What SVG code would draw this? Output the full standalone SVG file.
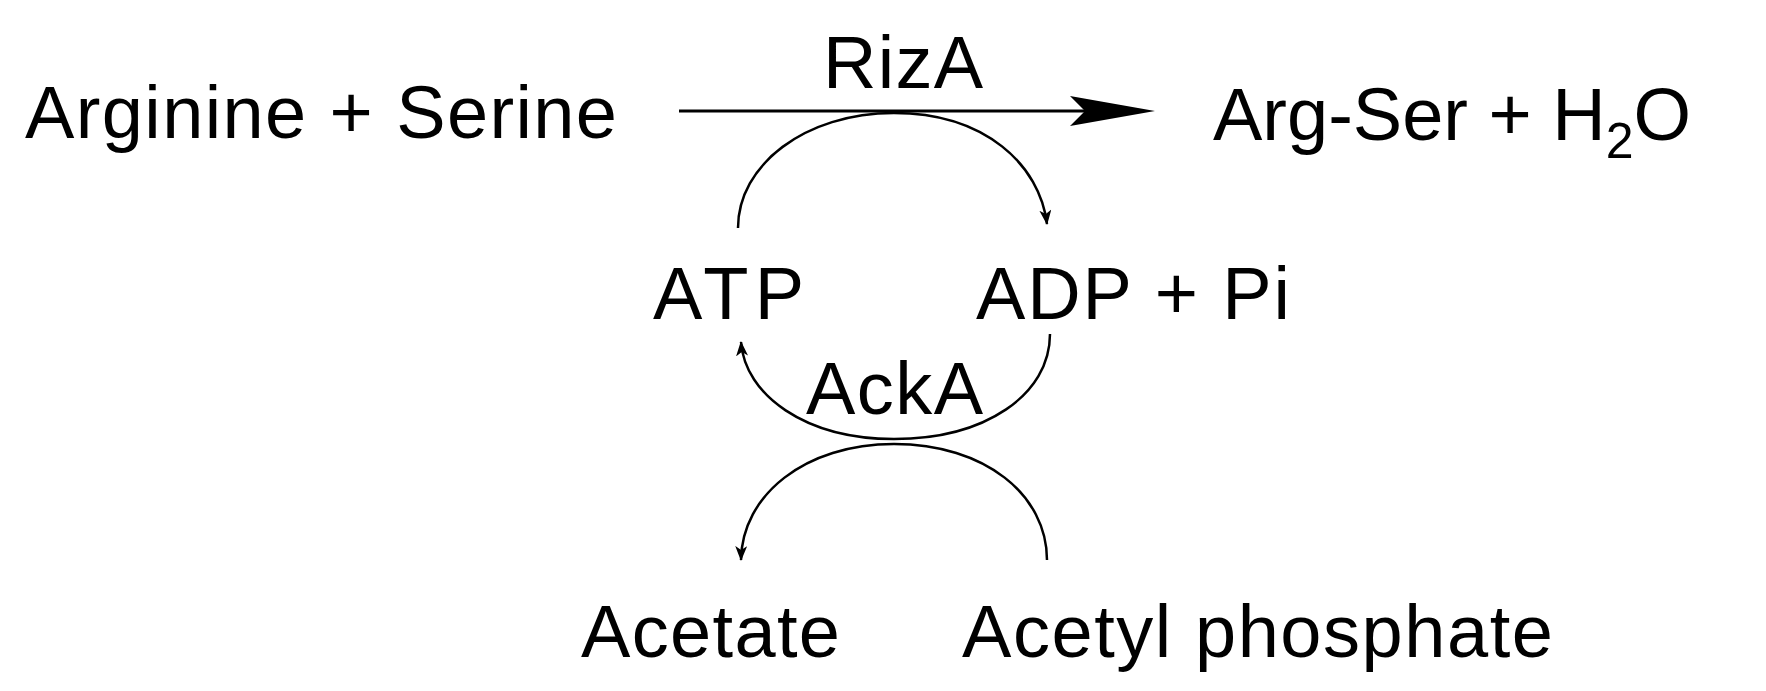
<svg xmlns="http://www.w3.org/2000/svg" width="1766" height="691" viewBox="0 0 1766 691">
<style>
text{font-family:"Liberation Sans",Arial,sans-serif;font-size:74px;fill:#000}
.arc{fill:none;stroke:#000;stroke-width:2.5}
</style>
<defs>
<marker id="sm" markerWidth="16" markerHeight="12" refX="14" refY="6" orient="auto" markerUnits="userSpaceOnUse">
<path d="M0,0 L15,6 L0,12 L4,6 Z" fill="#000"/>
</marker>
</defs>
<rect width="1766" height="691" fill="#fff"/>
<g id="reactants"><text x="25" y="138" textLength="592">Arginine + Serine</text></g>
<g id="products"><text x="1213" y="140">Arg-Ser + H<tspan font-size="50" dy="18">2</tspan><tspan dy="-18">O</tspan></text></g>
<g id="riza"><text x="823" y="88" textLength="160">RizA</text></g>
<g id="atp"><text x="653" y="319" textLength="151">ATP</text></g>
<g id="adp"><text x="976" y="319" textLength="314">ADP + Pi</text></g>
<g id="acka"><text x="806" y="414" textLength="177">AckA</text></g>
<g id="acetate"><text x="581" y="657" textLength="259">Acetate</text></g>
<g id="acetylp"><text x="962" y="657" textLength="591">Acetyl phosphate</text></g>
<g id="connectors">
<line x1="679" y1="111" x2="1090" y2="111" stroke="#000" stroke-width="3"/>
<path d="M1155,111 L1070,96 L1085,111 L1070,126 Z" fill="#000"/>
<path class="arc" d="M738,228 C738,165 805,113 894,113 C985,113 1040,165 1047,224" marker-end="url(#sm)"/>
<path class="arc" d="M1050,334 C1050,395 985,439 894,439 C805,439 745,395 741,342" marker-end="url(#sm)"/>
<path class="arc" d="M1047,560 C1047,495 985,444 894,444 C805,444 742,495 741,560" marker-end="url(#sm)"/>
</g>
</svg>
